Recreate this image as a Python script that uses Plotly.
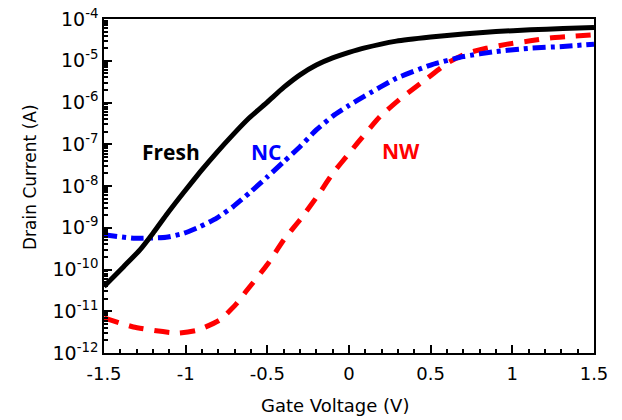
import plotly.graph_objects as go

# Gate voltage (V) and drain current (A)
fresh_v = [-1.5, -1.38, -1.28, -1.20, -1.12, -1.01, -0.91, -0.81, -0.71, -0.61, -0.50, -0.40, -0.30, -0.20, -0.10, 0.00,
           0.09, 0.29, 0.50, 0.70, 0.90, 1.11, 1.31, 1.5]
fresh_i = [3.9e-11, 1.17e-10, 2.95e-10, 7.4e-10, 2.0e-9, 7.2e-9, 2.2e-8, 6.3e-8, 1.7e-7, 4.3e-7, 1.02e-6, 2.3e-6, 4.6e-6,
           7.9e-6, 1.17e-5, 1.58e-5, 2.0e-5, 2.95e-5, 3.7e-5, 4.4e-5, 5.0e-5, 5.5e-5, 5.9e-5, 6.3e-5]

nc_v = [-1.5, -1.32, -1.12, -1.01, -0.91, -0.81, -0.71, -0.61, -0.50, -0.40, -0.30, -0.20, -0.10, 0.00,
        0.09, 0.29, 0.50, 0.70, 0.90, 1.11, 1.31, 1.5]
nc_i = [6.8e-10, 5.6e-10, 5.9e-10, 7.4e-10, 1.07e-9, 1.7e-9, 3.2e-9, 6.8e-9, 1.66e-8, 3.8e-8, 8.7e-8, 2.2e-7, 4.7e-7,
        8.5e-7, 1.38e-6, 3.8e-6, 7.9e-6, 1.26e-5, 1.66e-5, 2.0e-5, 2.2e-5, 2.5e-5]

nw_v = [-1.5, -1.32, -1.18, -1.05, -0.93, -0.79, -0.69, -0.63, -0.50, -0.40, -0.30, -0.18, -0.10, 0.00, 0.05,
        0.19, 0.33, 0.48, 0.60, 0.72, 0.84, 0.97, 1.11, 1.23, 1.35, 1.5]
nw_i = [6.9e-12, 4.2e-12, 3.4e-12, 3.0e-12, 3.5e-12, 6.2e-12, 1.5e-11, 3.0e-11, 1.32e-10, 5.1e-10, 1.55e-9, 6.8e-9,
        2.0e-8, 6.0e-8, 1.05e-7, 4.6e-7, 1.38e-6, 3.8e-6, 8.7e-6, 1.5e-5, 2.0e-5, 2.5e-5, 3.0e-5, 3.5e-5, 3.8e-5, 4.2e-5]

x_ticks = [-1.5, -1.0, -0.5, 0.0, 0.5, 1.0, 1.5]
x_labels = ["-1.5", "-1", "-0.5", "0", "0.5", "1", "1.5"]
y_exps = [-12, -11, -10, -9, -8, -7, -6, -5, -4]
y_ticks = [10.0 ** e for e in y_exps]
y_labels = ["10<sup>%d</sup>" % e for e in y_exps]
y_minor = [k * 10.0 ** e for e in y_exps[:-1] for k in range(2, 10)]

FONT = "DejaVu Sans, Liberation Sans, Arial, sans-serif"
LABEL_FONT = "Open Sans, Liberation Sans, Arial, sans-serif"

fig = go.Figure()
fig.add_trace(go.Scatter(x=nw_v, y=nw_i, mode="lines", name="NW",
                         line=dict(color="#FF0000", width=5, dash="15px,11px", shape="spline", smoothing=0.5)))
fig.add_trace(go.Scatter(x=nc_v, y=nc_i, mode="lines", name="NC",
                         line=dict(color="#0000FF", width=5, dash="13px,5px,4px,5px", shape="spline", smoothing=0.5)))
fig.add_trace(go.Scatter(x=fresh_v, y=fresh_i, mode="lines", name="Fresh",
                         line=dict(color="#000000", width=5, shape="spline", smoothing=0.5)))

fig.add_annotation(x=-1.09, y=-7.19, text="<b>Fresh</b>", showarrow=False,
                   font=dict(family=LABEL_FONT, size=21, color="#000000"))
fig.add_annotation(x=-0.51, y=-7.19, text="<b>NC</b>", showarrow=False,
                   font=dict(family=LABEL_FONT, size=21, color="#0000FF"))
fig.add_annotation(x=0.32, y=-7.16, text="<b>NW</b>", showarrow=False,
                   font=dict(family=LABEL_FONT, size=21, color="#FF0000"))

# axis titles
fig.add_annotation(xref="paper", yref="paper", x=0.471, y=-0.156, xanchor="center", yanchor="middle",
                   text="Gate Voltage (V)", showarrow=False,
                   font=dict(family=FONT, size=18, color="#000000"))
fig.add_annotation(xref="paper", yref="paper", x=-0.151, y=0.527, xanchor="center", yanchor="middle",
                   text="Drain Current (A)", showarrow=False, textangle=-90,
                   font=dict(family=FONT, size=17, color="#000000"))

fig.update_layout(
    width=622, height=420,
    margin=dict(l=104, r=28, t=19, b=67),
    paper_bgcolor="white", plot_bgcolor="white",
    showlegend=False,
    font=dict(family=FONT, size=18, color="#000000"),
    xaxis=dict(
        range=[-1.5, 1.5], tickvals=x_ticks, ticktext=x_labels, automargin=False,
        ticks="inside", ticklen=8, tickwidth=1.5, tickcolor="#000000",
        showline=True, linecolor="#000000", linewidth=1.5, mirror=True,
        showgrid=False, zeroline=False, ticklabeloverflow="allow", ticklabelstandoff=4,
        tickfont=dict(family=FONT, size=18),
        minor=dict(dtick=0.1, ticks="inside", ticklen=4, tickcolor="#000000", showgrid=False),
    ),
    yaxis=dict(
        type="log", range=[-12, -4], tickvals=y_ticks, ticktext=y_labels, automargin=False,
        ticks="inside", ticklen=8, tickwidth=1.5, tickcolor="#000000",
        showline=True, linecolor="#000000", linewidth=1.5, mirror=True,
        showgrid=False, zeroline=False, ticklabeloverflow="allow",
        tickfont=dict(family=FONT, size=19),
        minor=dict(tickmode="array", tickvals=y_minor, ticks="inside", ticklen=4,
                   tickcolor="#000000", showgrid=False),
    ),
)

# remove the default 8px page margin so the 622x420 figure fills the window
fig.write_html("out.html", config={"displayModeBar": False},
               post_script="document.body.style.margin='0';")
